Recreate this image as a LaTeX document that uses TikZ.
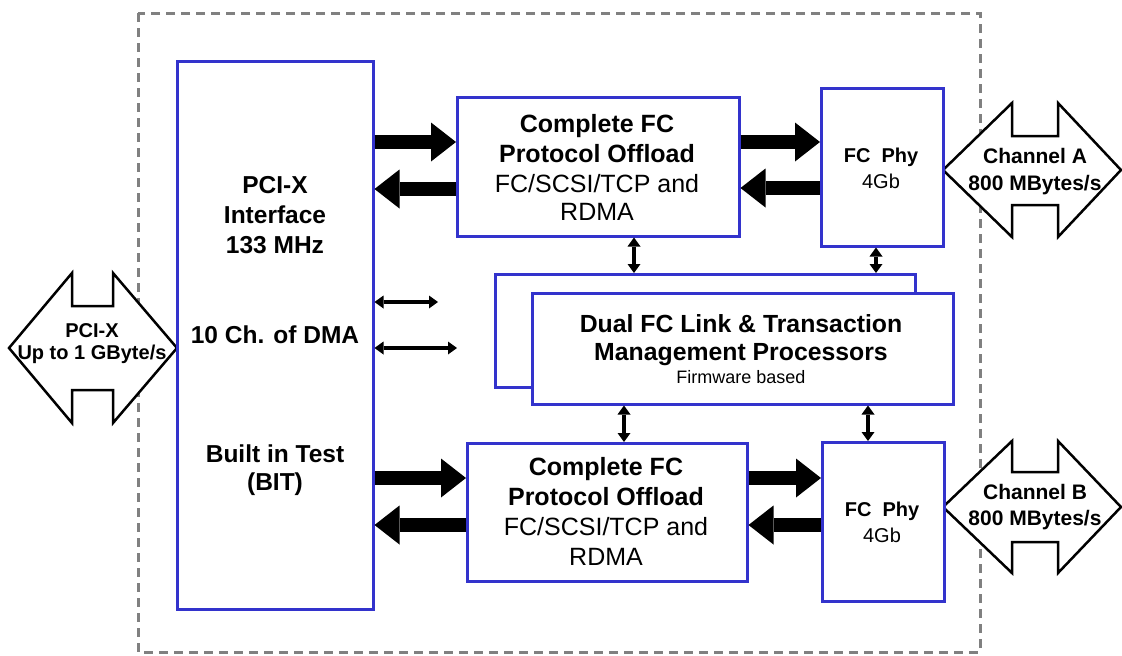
\documentclass[tikz,border=0pt]{standalone}
\usepackage{fontspec}
\setmainfont{Liberation Sans}
\usetikzlibrary{arrows.meta}
\definecolor{boxblue}{RGB}{51,51,204}
\definecolor{dashgray}{RGB}{128,128,128}
\begin{document}
\begin{tikzpicture}[x=1pt,y=-1pt,
  bluebox/.style={draw=boxblue, line width=2.5pt, fill=white, inner sep=0pt, anchor=north west},
  bigarrow/.style={line width=14pt, -{Triangle[width=39pt,length=25pt,line width=0pt]}},
  thinarrow/.style={line width=4.5pt, {Triangle[width=13pt,length=9pt,line width=0pt]}-{Triangle[width=13pt,length=9pt,line width=0pt]}},
  dblshape/.style={draw=black, line width=2.5pt, fill=white, line join=miter},
  dashbox/.style={draw=dashgray, line width=3pt, dash pattern=on 9pt off 6pt},
  tb/.style={anchor=base, inner sep=0pt, font=\fontsize{#1}{#1}\selectfont\bfseries},
  tn/.style={anchor=base, inner sep=0pt, font=\fontsize{#1}{#1}\selectfont},
]
\useasboundingbox (0,0) rectangle (1122,656);

% outer dashed frame
\draw[dashbox] (138,13) rectangle (980,652);

% PCI-X bus double arrow
\draw[dblshape] (9,348) -- (72,273) -- (72,306) -- (113,306) -- (113,273) -- (177,348)
  -- (113,423) -- (113,390) -- (72,390) -- (72,423) -- cycle;
\node[tb=20] (pcixa1) at (92,337) {PCI-X};
\node[tb=20] (pcixa2) at (92,359) {Up to 1 GByte/s};

% channel double arrows
\draw[dblshape] (943,170) -- (1012,103) -- (1012,136) -- (1058,136) -- (1058,103) -- (1121,170)
  -- (1058,237) -- (1058,205) -- (1012,205) -- (1012,237) -- cycle;
\node[tb=21] (cha1) at (1035,163) {Channel A};
\node[tb=21] (cha2) at (1035,190) {800 MBytes/s};
\draw[dblshape] (943,507) -- (1012,441) -- (1012,472) -- (1058,472) -- (1058,441) -- (1121,507)
  -- (1058,573) -- (1058,542) -- (1012,542) -- (1012,573) -- cycle;
\node[tb=21] (chb1) at (1035,499) {Channel B};
\node[tb=21] (chb2) at (1035,525) {800 MBytes/s};

% boxes
\node[bluebox, minimum width=196pt, minimum height=548pt] (pci) at (176,60) {};
\node[bluebox, minimum width=282pt, minimum height=139pt] (off1) at (456,96) {};
\node[bluebox, minimum width=122pt, minimum height=158pt] (phy1) at (820,87) {};
\node[bluebox, minimum width=420pt, minimum height=113pt] (back) at (494,273) {};
\node[bluebox, minimum width=421pt, minimum height=111pt] (front) at (531,292) {};
\node[bluebox, minimum width=280pt, minimum height=138pt] (off2) at (466,442) {};
\node[bluebox, minimum width=122pt, minimum height=159pt] (phy2) at (821,441) {};

% PCI box text
\node[tb=24.5] (p1) at (275,193) {PCI-X};
\node[tb=24.5] (p2) at (275,223) {Interface};
\node[tb=24.5] (p3) at (275,253) {133 MHz};
\node[tb=24.5] (p4) at (275,343) {10 Ch. of DMA};
\node[tb=24.5] (p5) at (275,462) {Built in Test};
\node[tb=24.5] (p6) at (275,490) {(BIT)};

% offload texts
\node[tb=25] (o11) at (597,132) {Complete FC};
\node[tb=25] (o12) at (597,162) {Protocol Offload};
\node[tn=25] (o13) at (597,192) {FC/SCSI/TCP and};
\node[tn=25] (o14) at (597,220) {RDMA};
\node[tb=25] (o21) at (606,475) {Complete FC};
\node[tb=25] (o22) at (606,505) {Protocol Offload};
\node[tn=25] (o23) at (606,535) {FC/SCSI/TCP and};
\node[tn=25] (o24) at (606,565) {RDMA};

% phy texts
\node[tb=20] (f11) at (881,162) {FC\ \ Phy};
\node[tn=20] (f12) at (881,188) {4Gb};
\node[tb=20] (f21) at (882,516) {FC\ \ Phy};
\node[tn=20] (f22) at (882,542) {4Gb};

% management text
\node[tb=24.8] (m1) at (741,332) {Dual FC Link \& Transaction};
\node[tb=24.8] (m2) at (741,360) {Management Processors};
\node[tn=18] (m3) at (741,383) {Firmware based};

% thick data arrows
\draw[bigarrow] (pci.east |- 0,142) -- (off1.west |- 0,142);
\draw[bigarrow] (off1.west |- 0,189) -- (pci.east |- 0,189);
\draw[bigarrow] (off1.east |- 0,142) -- (phy1.west |- 0,142);
\draw[bigarrow] (phy1.west |- 0,188) -- (off1.east |- 0,188);
\draw[bigarrow] (pci.east |- 0,478) -- (off2.west |- 0,478);
\draw[bigarrow] (off2.west |- 0,525) -- (pci.east |- 0,525);
\draw[bigarrow] (off2.east |- 0,478) -- (phy2.west |- 0,478);
\draw[bigarrow] (phy2.west |- 0,525) -- (off2.east |- 0,525);

% thin control arrows
\coordinate (e1) at (438,302);
\coordinate (e2) at (457,348);
\draw[thinarrow] (pci.east |- e1) -- (e1);
\draw[thinarrow] (pci.east |- e2) -- (e2);
\draw[thinarrow] (off1.south -| 634,0) -- (back.north -| 634,0);
\draw[thinarrow] (phy1.south -| 876,0) -- (back.north -| 876,0);
\draw[thinarrow] (front.south -| 624,0) -- (off2.north -| 624,0);
\draw[thinarrow] (front.south -| 868,0) -- (phy2.north -| 868,0);
\end{tikzpicture}
\end{document}
